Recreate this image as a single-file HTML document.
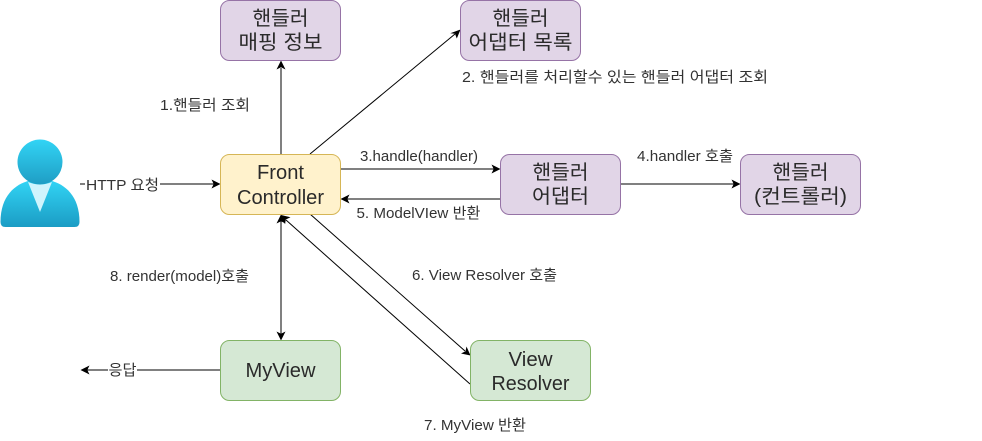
<!DOCTYPE html>
<html>
<head>
<meta charset="utf-8">
<style>
html,body{margin:0;padding:0;background:#fff;width:982px;height:441px;overflow:hidden}
svg{display:block}
text{font-family:"Liberation Sans","Noto Sans CJK KR","NanumGothic",sans-serif;fill:#2a2a2a;font-weight:400}
.b{font-size:20px;text-anchor:middle}
.l{font-size:15px;text-anchor:middle;fill:#333}
.p{fill:#e1d5e7;stroke:#9673a6}
.y{fill:#fff2cc;stroke:#d6b656}
.g{fill:#d5e8d4;stroke:#82b366}
.ln{fill:none;stroke:#000;stroke-width:1}
</style>
</head>
<body>
<svg width="982" height="441" viewBox="0 0 982 441" xmlns="http://www.w3.org/2000/svg">
<defs>
<linearGradient id="gh" x1="0" y1="0" x2="0" y2="1"><stop offset="0" stop-color="#32d4f5"/><stop offset="1" stop-color="#1f9dc4"/></linearGradient>
<linearGradient id="gb" x1="0" y1="0" x2="0" y2="1"><stop offset="0" stop-color="#32d4f5"/><stop offset="1" stop-color="#1b9cc4"/></linearGradient>
</defs>

<!-- person -->
<path d="M0.500 222C0.500 196 15 184 30 180.500H50C65 184 79.500 196 79.500 222Q79.500 227 74.500 227H5.500Q0.500 227 0.500 222Z" fill="url(#gb)"/>
<circle cx="40" cy="162" r="22.500" fill="url(#gh)"/>
<path d="M28 182Q40 187 52 182L40 212Z" fill="#d0f4fd"/>

<!-- connectors -->
<path class="ln" d="M281 154V68"/><path d="M281 60.500L285.500 69.500L281 67.300L276.500 69.500Z"/>
<path class="ln" d="M310 154L455 34"/><path d="M460.500 29.500L456.800 38.500L455.000 33.800L450.300 33.200Z"/>
<path class="ln" d="M341 169H494"/><path d="M500.500 169L491.500 173.500L493.700 169L491.500 164.500Z"/>
<path class="ln" d="M500 199H347"/><path d="M340.500 199L349.500 194.500L347.300 199L349.500 203.500Z"/>
<path class="ln" d="M621 184H734"/><path d="M740.500 184L731.500 188.500L733.700 184L731.500 179.500Z"/>
<path class="ln" d="M80 184H214"/><path d="M220.500 184L211.500 188.500L213.700 184L211.500 179.500Z"/>
<path class="ln" d="M281 221V334"/><path d="M281 214.500L285.500 223.500L281 221.300L276.500 223.500Z"/><path d="M281 340.500L276.500 331.500L281 333.700L285.500 331.500Z"/>
<path class="ln" d="M310 214L465 351"/><path d="M470.500 355.500L461 353.500L465.500 351.300L466.500 346.500Z"/>
<path class="ln" d="M470 384L286 220"/><path d="M281 215L290.500 217.300L285.800 219.500L285 224.200Z"/>
<path class="ln" d="M220 370H87"/><path d="M80.500 370L89.500 365.500L87.300 370L89.500 374.500Z"/>

<!-- label backgrounds -->
<rect x="85" y="176" width="75" height="17" fill="#fff"/>
<rect x="108" y="362" width="29" height="17" fill="#fff"/>

<!-- boxes -->
<rect class="p" x="220.500" y="0.500" width="120" height="60" rx="9"/>
<text class="b" x="280.500" y="25" textLength="56" lengthAdjust="spacingAndGlyphs">핸들러</text><text class="b" x="280.500" y="49" textLength="84" lengthAdjust="spacingAndGlyphs">매핑 정보</text>
<rect class="p" x="460.500" y="0.500" width="120" height="60" rx="9"/>
<text class="b" x="520.500" y="25" textLength="56" lengthAdjust="spacingAndGlyphs">핸들러</text><text class="b" x="520.500" y="49" textLength="104" lengthAdjust="spacingAndGlyphs">어댑터 목록</text>
<rect class="y" x="220.500" y="154.500" width="120" height="60" rx="9"/>
<text class="b" x="280.500" y="179" textLength="47" lengthAdjust="spacingAndGlyphs">Front</text><text class="b" x="280.500" y="204" textLength="87" lengthAdjust="spacingAndGlyphs">Controller</text>
<rect class="p" x="500.500" y="154.500" width="120" height="60" rx="9"/>
<text class="b" x="560.500" y="179" textLength="56" lengthAdjust="spacingAndGlyphs">핸들러</text><text class="b" x="560.500" y="203" textLength="57" lengthAdjust="spacingAndGlyphs">어댑터</text>
<rect class="p" x="740.500" y="154.500" width="120" height="60" rx="9"/>
<text class="b" x="800.500" y="179" textLength="56" lengthAdjust="spacingAndGlyphs">핸들러</text><text class="b" x="800.500" y="203" textLength="93" lengthAdjust="spacingAndGlyphs">(컨트롤러)</text>
<rect class="g" x="220.500" y="340.500" width="120" height="60" rx="9"/>
<text class="b" x="280.500" y="377" textLength="70" lengthAdjust="spacingAndGlyphs">MyView</text>
<rect class="g" x="470.500" y="340.500" width="120" height="60" rx="9"/>
<text class="b" x="530.500" y="366" textLength="44" lengthAdjust="spacingAndGlyphs">View</text><text class="b" x="530.500" y="390" textLength="78" lengthAdjust="spacingAndGlyphs">Resolver</text>

<!-- labels -->
<text class="l" x="205" y="110" textLength="90" lengthAdjust="spacingAndGlyphs">1.핸들러 조회</text>
<text class="l" x="615" y="82" textLength="306" lengthAdjust="spacingAndGlyphs">2. 핸들러를 처리할수 있는 핸들러 어댑터 조회</text>
<text class="l" x="419" y="161" textLength="118" lengthAdjust="spacingAndGlyphs">3.handle(handler)</text>
<text class="l" x="685" y="161" textLength="96" lengthAdjust="spacingAndGlyphs">4.handler 호출</text>
<text class="l" x="418.500" y="218" textLength="124" lengthAdjust="spacingAndGlyphs">5. ModelVIew 반환</text>
<text class="l" x="484.500" y="280" textLength="145" lengthAdjust="spacingAndGlyphs">6. View Resolver 호출</text>
<text class="l" x="475" y="430" textLength="102" lengthAdjust="spacingAndGlyphs">7. MyView 반환</text>
<text class="l" x="179.500" y="281" textLength="139" lengthAdjust="spacingAndGlyphs">8. render(model)호출</text>
<text class="l" x="122.500" y="190" textLength="73" lengthAdjust="spacingAndGlyphs">HTTP 요청</text>
<text class="l" x="122.500" y="375" textLength="28" lengthAdjust="spacingAndGlyphs">응답</text>
</svg>
</body>
</html>
